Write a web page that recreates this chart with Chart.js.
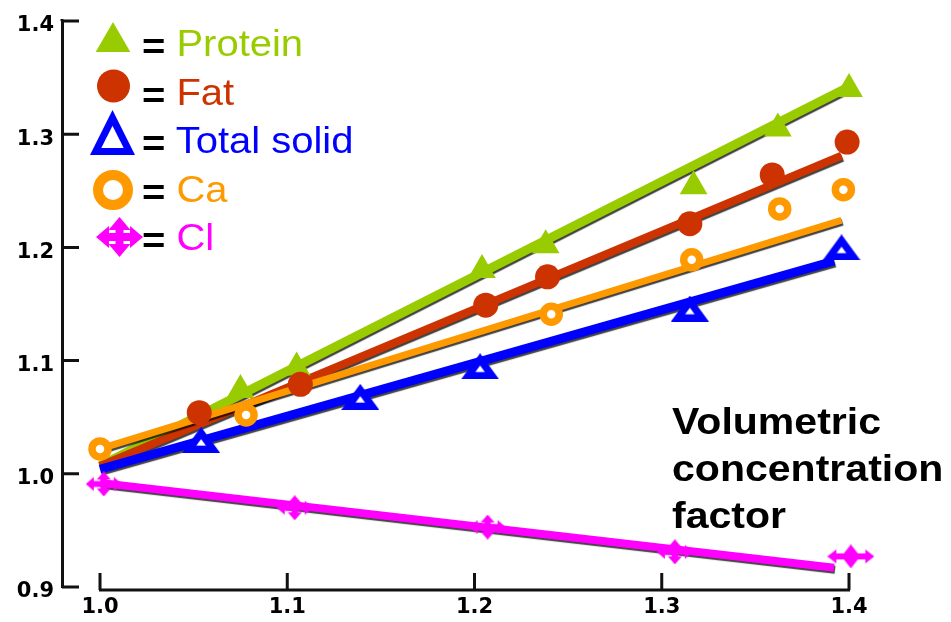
<!DOCTYPE html>
<html>
<head>
    <title>Volumetric concentration factor</title>
    <script src="https://cdn.jsdelivr.net/npm/chart.js"></script>
    <style>
        body { margin: 0; background: #fff; }
        #wrap { position: relative; width: 951px; height: 622px; }
        .lbl {
            position: absolute;
            font-family: "Liberation Sans", Arial, sans-serif;
            font-size: 36px;
            line-height: 36px;
            white-space: nowrap;
            transform: scaleX(1.11);
            transform-origin: 0 0;
        }
        .eq { color: #000; font-weight: bold; position: relative; top: 3px; }
        #note {
            position: absolute;
            left: 672px;
            top: 398px;
            font: bold 36px/47px "Liberation Sans", Arial, sans-serif;
            color: #000;
            white-space: nowrap;
            transform: scaleX(1.14);
            transform-origin: 0 0;
        }
    </style>
</head>
<body>
<div id="wrap">
    <canvas id="chart" width="951" height="622"></canvas>
    <div class="lbl" style="left:142px;top:26px;color:#99cc00"><span class="eq">=</span> Protein</div>
    <div class="lbl" style="left:142px;top:75px;color:#cc3300"><span class="eq">=</span> Fat</div>
    <div class="lbl" style="left:142px;top:123px;color:#0000ff"><span class="eq">=</span> Total solid</div>
    <div class="lbl" style="left:142px;top:172px;color:#ff9900"><span class="eq">=</span> Ca</div>
    <div class="lbl" style="left:142px;top:220px;color:#ff00ff"><span class="eq">=</span> Cl</div>
    <div id="note">Volumetric<br>concentration<br>factor</div>
</div>
<script>
    // tick labels
    const xTicks = [1.0, 1.1, 1.2, 1.3, 1.4];
    const yTicks = [0.9, 1.0, 1.1, 1.2, 1.3, 1.4];

    // measured points
    const proteinX = [1.075, 1.105, 1.204, 1.238, 1.317, 1.362, 1.400];
    const proteinY = [1.074, 1.094, 1.180, 1.202, 1.254, 1.305, 1.340];
    const fatX = [1.053, 1.107, 1.206, 1.239, 1.315, 1.359, 1.399];
    const fatY = [1.054, 1.079, 1.149, 1.174, 1.221, 1.264, 1.293];
    const solidX = [1.054, 1.139, 1.203, 1.315, 1.396];
    const solidY = [1.030, 1.068, 1.095, 1.146, 1.200];
    const caX = [1.000, 1.078, 1.241, 1.316, 1.363, 1.397];
    const caY = [1.022, 1.052, 1.141, 1.189, 1.234, 1.251];
    const clX = [1.002, 1.104, 1.207, 1.307, 1.401];
    const clY = [0.991, 0.970, 0.953, 0.931, 0.927];

    // fitted straight lines (start and end)
    const proteinFitX = [1.0, 1.4];
    const proteinFitY = [1.007, 1.342];
    const fatFitX = [1.0, 1.396];
    const fatFitY = [1.007, 1.281];
    const caFitX = [1.0, 1.396];
    const caFitY = [1.022, 1.224];
    const solidFitX = [1.0, 1.392];
    const solidFitY = [1.004, 1.188];
    const clFitX = [1.0, 1.392];
    const clFitY = [0.992, 0.917];

    const GREEN = '#99cc00', RED = '#cc3300', BLUE = '#0000ff', ORANGE = '#ff9900', PINK = '#ff00ff';

    function pts(xs, ys) {
        return xs.map((x, i) => ({ x: x, y: ys[i] }));
    }

    // hollow triangle as an image
    function makeTriangle(w, h, lw, color) {
        const c = document.createElement('canvas');
        c.width = w; c.height = h;
        const g = c.getContext('2d');
        const L = Math.hypot(w / 2, h), s = (w + 2 * L) / 2, rho = (w * h / 2) / s;
        const cx = w / 2, cy = h - rho, k = (rho - lw) / rho;
        const p = [[w / 2, 0], [w, h], [0, h]];
        g.fillStyle = color;
        g.beginPath();
        p.forEach((q, i) => i ? g.lineTo(q[0], q[1]) : g.moveTo(q[0], q[1]));
        g.closePath();
        g.fill();
        g.fillStyle = '#fff';
        g.beginPath();
        p.forEach((q, i) => {
            const qx = cx + (q[0] - cx) * k, qy = cy + (q[1] - cy) * k;
            i ? g.lineTo(qx, qy) : g.moveTo(qx, qy);
        });
        g.closePath();
        g.fill();
        return c;
    }

    // four way arrow as an image
    function makeCross(w, h, shaft, headLen, headHalf, color) {
        const c = document.createElement('canvas');
        c.width = w; c.height = h;
        const g = c.getContext('2d');
        const cx = w / 2, cy = h / 2;
        g.fillStyle = color;
        g.fillRect(headLen - 1, cy - shaft / 2, w - 2 * headLen + 2, shaft);
        g.fillRect(cx - shaft / 2, headLen - 1, shaft, h - 2 * headLen + 2);
        function tri(a, b, c2, d, e, f) {
            g.beginPath(); g.moveTo(a, b); g.lineTo(c2, d); g.lineTo(e, f); g.closePath(); g.fill();
        }
        tri(0, cy, headLen, cy - headHalf, headLen, cy + headHalf);
        tri(w, cy, w - headLen, cy - headHalf, w - headLen, cy + headHalf);
        tri(cx, 0, cx - headHalf, headLen, cx + headHalf, headLen);
        tri(cx, h, cx - headHalf, h - headLen, cx + headHalf, h - headLen);
        return c;
    }

    const triChart = makeTriangle(38, 26, 7.2, BLUE);
    const triLegend = makeTriangle(45, 45, 7, BLUE);
    const crossChart = makeCross(36, 25, 6, 8, 7, PINK);
    const crossWide = makeCross(47, 24, 6, 9, 7, PINK);
    const crossLegend = makeCross(47, 40, 8, 13, 11, PINK);

    const axisPlugin = {
        id: 'axisTicks',
        beforeDatasetsDraw(chart) {
            const { ctx, chartArea, scales } = chart;
            const x = scales.x, y = scales.y;
            const axisY = chartArea.bottom + 3;
            ctx.save();
            ctx.strokeStyle = '#111';
            ctx.lineWidth = 3;
            ctx.beginPath();
            ctx.moveTo(chartArea.left, chartArea.top - 2);
            ctx.lineTo(chartArea.left, chartArea.top);
            ctx.moveTo(x.getPixelForValue(xTicks[0]) - 1, axisY);
            ctx.lineTo(x.getPixelForValue(xTicks[xTicks.length - 1]) + 1, axisY);
            xTicks.forEach(v => {
                const px = x.getPixelForValue(v);
                ctx.moveTo(px, axisY);
                ctx.lineTo(px, axisY - 17);
            });
            yTicks.forEach(v => {
                const py = y.getPixelForValue(v);
                ctx.moveTo(chartArea.left, py);
                ctx.lineTo(chartArea.left + 17, py);
            });
            ctx.stroke();
            ctx.restore();
        }
    };

    // dark shadow under the coloured fit lines, like the scanned original
    const shadowPlugin = {
        id: 'lineShadow',
        beforeDatasetDraw(chart, args) {
            if (!chart.data.datasets[args.index].fit) return;
            const ctx = chart.ctx;
            ctx.save();
            ctx.shadowColor = 'rgba(0,0,0,0.75)';
            ctx.shadowOffsetX = 1;
            ctx.shadowOffsetY = 2;
            ctx.shadowBlur = 1;
        },
        afterDatasetDraw(chart, args) {
            if (chart.data.datasets[args.index].fit) chart.ctx.restore();
        }
    };

    const legendPlugin = {
        id: 'legendMarks',
        afterDraw(chart) {
            const ctx = chart.ctx;
            ctx.save();
            // protein triangle
            const r = 20, tx = 113, ty = 42;
            ctx.fillStyle = GREEN;
            ctx.beginPath();
            ctx.moveTo(tx, ty - r);
            ctx.lineTo(tx + r * Math.sqrt(3) / 2, ty + r / 2);
            ctx.lineTo(tx - r * Math.sqrt(3) / 2, ty + r / 2);
            ctx.closePath();
            ctx.fill();
            // fat
            ctx.fillStyle = RED;
            ctx.beginPath();
            ctx.arc(113.5, 86, 16.5, 0, Math.PI * 2);
            ctx.fill();
            // total solid
            ctx.drawImage(triLegend, 112.5 - triLegend.width / 2, 132.5 - triLegend.height / 2);
            // ca
            ctx.fillStyle = '#fff';
            ctx.strokeStyle = ORANGE;
            ctx.lineWidth = 10;
            ctx.beginPath();
            ctx.arc(113, 190, 15, 0, Math.PI * 2);
            ctx.fill();
            ctx.stroke();
            // cl
            ctx.drawImage(crossLegend, 119.5 - crossLegend.width / 2, 237 - crossLegend.height / 2);
            ctx.restore();
        }
    };

    const tickFont = { family: 'DejaVu Sans', weight: 'bold', size: 21 };

    new Chart(document.getElementById('chart').getContext('2d'), {
        type: 'scatter',
        data: {
            datasets: [
                { label: 'Protein fit', fit: true, data: pts(proteinFitX, proteinFitY), showLine: true,
                  borderColor: GREEN, borderWidth: 9, pointRadius: 0, order: 10, clip: false },
                { label: 'Fat fit', fit: true, data: pts(fatFitX, fatFitY), showLine: true,
                  borderColor: RED, borderWidth: 8, pointRadius: 0, order: 9, clip: false },
                { label: 'Ca fit', fit: true, data: pts(caFitX, caFitY), showLine: true,
                  borderColor: ORANGE, borderWidth: 7, pointRadius: 0, order: 8, clip: false },
                { label: 'Total solid fit', fit: true, data: pts(solidFitX, solidFitY), showLine: true,
                  borderColor: BLUE, borderWidth: 9, pointRadius: 0, order: 7, clip: false },
                { label: 'Cl fit', fit: true, data: pts(clFitX, clFitY), showLine: true,
                  borderColor: PINK, borderWidth: 8, pointRadius: 0, order: 6, clip: false },

                { label: 'Protein', data: pts(proteinX, proteinY), pointStyle: 'triangle', pointRadius: 16,
                  backgroundColor: GREEN, borderWidth: 0, order: 5, clip: false },
                { label: 'Fat', data: pts(fatX, fatY), pointStyle: 'circle', pointRadius: 12.5,
                  backgroundColor: RED, borderWidth: 0, order: 3, clip: false },
                { label: 'Total solid', data: pts(solidX, solidY), pointStyle: triChart, pointRadius: 20,
                  order: 2, clip: false },
                { label: 'Ca', data: pts(caX, caY), pointStyle: 'circle', pointRadius: 8, borderWidth: 7.5,
                  borderColor: ORANGE, backgroundColor: '#fff', order: 4, clip: false },
                { label: 'Cl', data: pts(clX, clY),
                  pointStyle: [crossChart, crossChart, crossChart, crossChart, crossWide], pointRadius: 20,
                  order: 1, clip: false }
            ]
        },
        options: {
            responsive: false,
            animation: false,
            events: [],
            layout: { padding: { top: 16, right: 102, left: 0, bottom: 0 } },
            plugins: { legend: { display: false }, tooltip: { enabled: false } },
            scales: {
                x: {
                    type: 'linear',
                    min: 0.9797,
                    max: 1.4,
                    afterBuildTicks: s => { s.ticks = xTicks.map(v => ({ value: v })); },
                    afterFit: s => { s.height = 35; },
                    grid: { display: false, drawTicks: false },
                    border: { display: false },
                    ticks: { font: tickFont, color: '#000', padding: 8, autoSkip: false, maxRotation: 0,
                             callback: v => Number(v).toFixed(1) }
                },
                y: {
                    min: 0.9,
                    max: 1.4,
                    afterBuildTicks: s => { s.ticks = yTicks.map(v => ({ value: v })); },
                    afterFit: s => { s.width = 62; },
                    grid: { display: false, drawTicks: false },
                    border: { display: true, color: '#111', width: 3 },
                    ticks: { font: tickFont, color: '#000', padding: 8, labelOffset: 5,
                             callback: v => Number(v).toFixed(1) }
                }
            }
        },
        plugins: [axisPlugin, shadowPlugin, legendPlugin]
    });
</script>
</body>
</html>
